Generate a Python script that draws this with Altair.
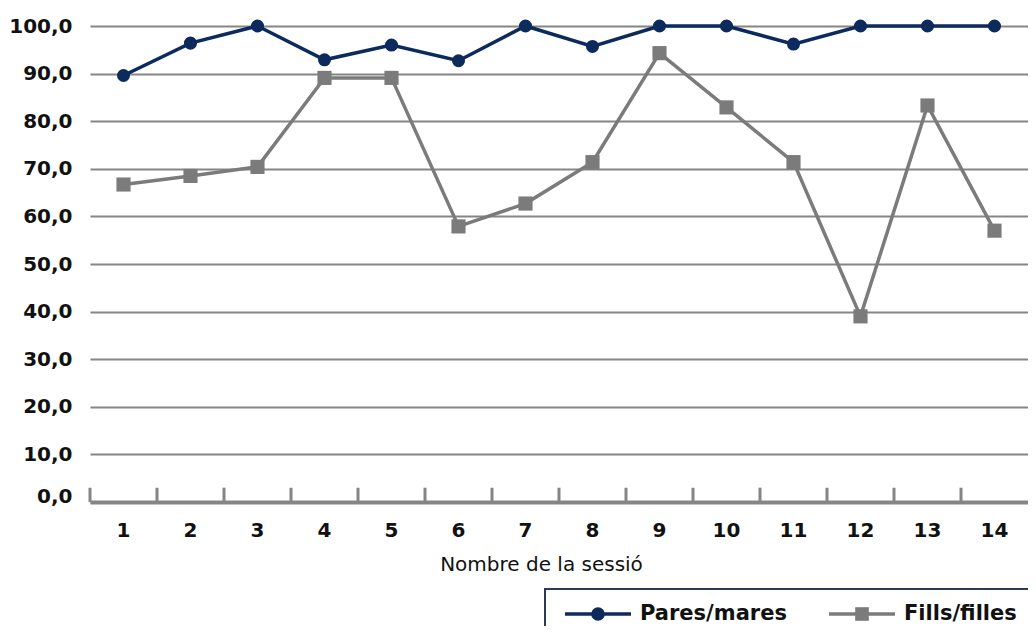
import altair as alt
import pandas as pd

# ---- data ----
sessions = ["1", "2", "3", "4", "5", "6", "7", "8", "9", "10", "11", "12", "13", "14"]
pares_mares = [89.6, 96.4, 100.0, 92.9, 96.0, 92.7, 100.0, 95.7, 100.0, 100.0, 96.2, 100.0, 100.0, 100.0]
fills_filles = [66.7, 68.5, 70.4, 89.1, 89.1, 57.9, 62.7, 71.4, 94.3, 82.9, 71.4, 39.0, 83.3, 57.0]
series_names = ["Pares/mares", "Fills/filles"]
series_colors = ["#0c2a5c", "#7b7b7b"]
series_shapes = ["circle", "square"]
y_ticks = [0, 10, 20, 30, 40, 50, 60, 70, 80, 90, 100]
x_title = "Nombre de la sessió"

df = pd.DataFrame({
    "session": sessions + sessions,
    "value": pares_mares + fills_filles,
    "series": [series_names[0]] * len(sessions) + [series_names[1]] * len(sessions),
})
legend_df = pd.DataFrame({"series": series_names})

FONT = "DejaVu Sans"
GRID = "#858585"
TEXT = "#111111"

x_axis = alt.Axis(
    title=x_title, labelAngle=0, ticks=False, grid=False,
    domainColor=GRID, domainWidth=4,
    labelFont=FONT, labelFontSize=20, labelFontWeight="bold", labelColor=TEXT,
    labelPadding=18,
    titleFont=FONT, titleFontSize=20, titleFontWeight="normal", titleColor=TEXT,
    titlePadding=14, titleX=451, titleAlign="center",
)
y_axis = alt.Axis(
    title=None, values=y_ticks, domain=False, ticks=False,
    grid=True, gridColor=GRID, gridWidth=2,
    labelExpr="replace(format(datum.value, '.1f'), '.', ',')",
    labelBaseline={"condition": {"test": "datum.value == 0", "value": "alphabetic"}, "value": "middle"},
    labelFont=FONT, labelFontSize=20, labelFontWeight="bold", labelColor=TEXT,
    labelPadding=18,
)
x_scale = alt.Scale(domain=sessions, paddingInner=0, paddingOuter=0)
y_scale = alt.Scale(domain=[0, 100], nice=False, zero=True)
color_scale = alt.Scale(domain=series_names, range=series_colors)

X = alt.X("session:O", sort=sessions, scale=x_scale, axis=x_axis)
Y = alt.Y("value:Q", scale=y_scale, axis=y_axis)
C = alt.Color("series:N", scale=color_scale, legend=None)

base = alt.Chart(df)

# category-boundary ticks rising from the x axis line
ticks = base.transform_filter(alt.datum.series == series_names[0]).mark_rule(
    color=GRID, strokeWidth=3
).encode(
    x=alt.X("session:O", sort=sessions, scale=x_scale, axis=x_axis, bandPosition=0),
    y=alt.datum(0),
    y2=alt.datum(3),
)

lines = base.mark_line(strokeWidth=3.5).encode(x=X, y=Y, color=C)

squares = base.transform_filter(alt.datum.series == series_names[1]).mark_point(
    shape="square", filled=True, size=200, opacity=1
).encode(x=X, y=Y, color=C)

circles = base.transform_filter(alt.datum.series == series_names[0]).mark_point(
    shape="circle", filled=True, size=170, opacity=1
).encode(x=X, y=Y, color=C)

main = alt.layer(ticks, lines, squares, circles)

# ---- legend (boxed, bottom right, cut by the right edge as in the reference) ----
LEG_Y = 588
LX = alt.X("series:N", sort=series_names, axis=None,
           scale=alt.Scale(type="point", domain=series_names, range=[508, 772], padding=0))
leg_base = alt.Chart(legend_df)

leg_box = leg_base.transform_filter(alt.datum.series == series_names[0]).mark_rect(
    fill="white", stroke="#2b3a55", strokeWidth=2
).encode(x=alt.value(455), x2=alt.value(980), y=alt.value(563), y2=alt.value(650))

leg_lines = leg_base.mark_point(shape="stroke", size=4356, strokeWidth=3.5, filled=False, opacity=1).encode(
    x=LX, y=alt.value(LEG_Y), color=C)

leg_marks = leg_base.mark_point(filled=True, size=185, opacity=1).encode(
    x=LX, y=alt.value(LEG_Y), color=C,
    shape=alt.Shape("series:N", scale=alt.Scale(domain=series_names, range=series_shapes), legend=None))

leg_text = leg_base.mark_text(
    align="left", baseline="middle", dx=42, font=FONT, fontSize=21, fontWeight="bold", color=TEXT
).encode(x=LX, y=alt.value(LEG_Y), text="series:N")

legend = alt.layer(leg_box, leg_lines, leg_marks, leg_text)

chart = alt.layer(main, legend).resolve_scale(x="independent").properties(
    width=938, height=476,
    padding={"left": 82, "top": 18, "right": 0, "bottom": 124},
    autosize=alt.AutoSizeParams(type="none"),
    background="white",
).configure_view(stroke=None)

chart.save("out.html", embed_options={"renderer": "svg", "actions": False})
